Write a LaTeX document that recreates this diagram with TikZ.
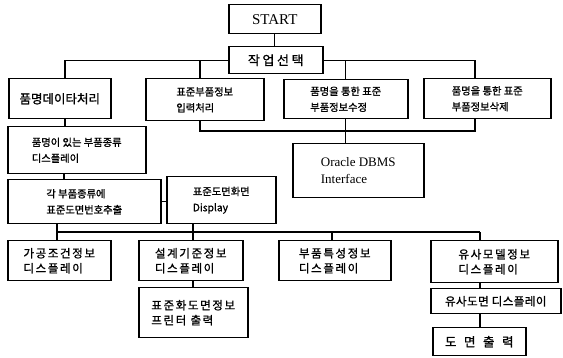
\documentclass[tikz,border=0pt]{standalone}
\usepackage{fontspec}
\setmainfont{Liberation Serif}
\newfontfamily\kr[FakeBold=1.2]{Noto Sans CJK KR}
\begin{document}
\begin{tikzpicture}[x=1pt,y=-1pt,
  box/.style={draw, line width=1.5pt, anchor=north west, inner sep=0pt, align=left},
  sm/.style={font=\kr\fontsize{10.3}{16}\selectfont},
  md/.style={font=\kr\fontsize{11.5}{15}\selectfont\addfontfeature{LetterSpace=14}},
  con/.style={line width=1.2pt}]
\useasboundingbox (0,0) rectangle (563,358);
% top level
\node[box, minimum width=92pt, minimum height=29pt, font=\fontsize{15}{15}\selectfont] (start) at (228,4) {START};
\node[box, minimum width=94pt, minimum height=27pt, font=\kr\fontsize{13}{13}\selectfont\addfontfeature{LetterSpace=20}] (sel) at (228,46) {작업선택};
% second level
\node[box, minimum width=102pt, minimum height=40pt, font=\kr\fontsize{12.5}{13}\selectfont] (pm) at (8,78) {품명데이타처리};
\node[box, sm, minimum width=118pt, minimum height=42pt] (inp) at (145,78) {표준부품정보\\입력처리};
\node[box, sm, minimum width=124pt, minimum height=39pt] (mod) at (283,79) {품명을 통한 표준\\부품정보수정};
\node[box, sm, minimum width=127pt, minimum height=40pt] (del) at (423,78) {품명을 통한 표준\\부품정보삭제};
\node[box, minimum width=131pt, minimum height=54pt, font=\fontsize{13}{17}\selectfont] (ora) at (292,143) {Oracle DBMS\\Interface};
% left column
\node[box, sm, minimum width=138pt, minimum height=47pt] (pmlist) at (7,126) {품명이 있는 부품종류\\디스플레이};
\node[box, sm, minimum width=153pt, minimum height=44pt] (ext) at (7,179) {각 부품종류에\\표준도면번호추출};
\node[box, sm, minimum width=109pt, minimum height=47pt] (disp) at (166,176) {표준도면화면\\Display};
% bottom level
\node[box, md, minimum width=103pt, minimum height=40pt] (gagong) at (7,240) {가공조건정보\\디스플레이};
\node[box, md, minimum width=104pt, minimum height=40pt] (design) at (138,240) {설계기준정보\\디스플레이};
\node[box, md, minimum width=112pt, minimum height=40pt] (feat) at (278,240) {부품특성정보\\디스플레이};
\node[box, md, minimum width=127pt, minimum height=42pt] (sim) at (430,240) {유사모델정보\\디스플레이};
\node[box, md, minimum width=109pt, minimum height=50pt] (print) at (138,287) {표준화도면정보\\프린터 출력};
\node[box, font=\kr\fontsize{11.5}{13}\selectfont\addfontfeature{LetterSpace=4}, minimum width=130pt, minimum height=25pt] (simdisp) at (430,288) {유사도면 디스플레이};
\node[box, font=\kr\fontsize{12.5}{13}\selectfont\addfontfeature{LetterSpace=60}, minimum width=93pt, minimum height=28pt] (out) at (432,327) {도면출력};
% bus and drop coordinates
\coordinate (ob) at (0,131);
\coordinate (bb) at (0,232);
\coordinate (pmN) at ([xshift=57pt]pm.north west);
\coordinate (pmS) at ([xshift=57pt]pm.south west);
\coordinate (listS) at ([xshift=57pt]pmlist.south west);
\coordinate (delN) at ([xshift=52pt]del.north west);
\coordinate (delS) at ([xshift=52pt]del.south west);
\coordinate (inpN) at ([xshift=55pt]inp.north west);
\coordinate (inpS) at ([xshift=55pt]inp.south west);
\coordinate (extS) at ([xshift=50pt]ext.south west);
\coordinate (dispS) at ([xshift=27pt]disp.south west);
\coordinate (gagN) at ([xshift=50pt]gagong.north west);
\coordinate (desN) at ([xshift=55pt]design.north west);
\coordinate (desS) at ([xshift=55pt]design.south west);
\coordinate (featN) at ([xshift=54pt]feat.north west);
\coordinate (simN) at ([xshift=50pt]sim.north west);
\coordinate (simS) at ([xshift=50pt]sim.south west);
\coordinate (sdS) at ([xshift=50pt]simdisp.south west);
% connectors
\draw[con] (start.south) -- (start.south |- sel.north);
\draw[con] (sel.west) -| (pmN);
\draw[con] (sel.east) -| (delN);
\draw[con] (inpN) -- (inpN |- sel.west);
\draw[con] (mod.north) -- (mod.north |- sel.east);
\draw[con] (inpS) |- (delS |- ob) -- (delS);
\draw[con] (mod.south) -- (mod.south |- ora.north);
\draw[con] (pmS) -- (pmS |- pmlist.north);
\draw[con] (listS) -- (listS |- ext.north);
\draw[con] (ext.east) -- (ext.east -| disp.west);
\draw[con] (extS) |- (simN |- bb);
\draw[con] (dispS) -- (dispS |- bb);
\draw[con] (gagN) -- (gagN |- bb);
\draw[con] (desN) -- (desN |- bb);
\draw[con] (featN) -- (featN |- bb);
\draw[con] (simN) -- (simN |- bb);
\draw[con] (desS) -- (desS |- print.north);
\draw[con] (simS) -- (simS |- simdisp.north);
\draw[con] (sdS) -- (sdS |- out.north);
\end{tikzpicture}
\end{document}
